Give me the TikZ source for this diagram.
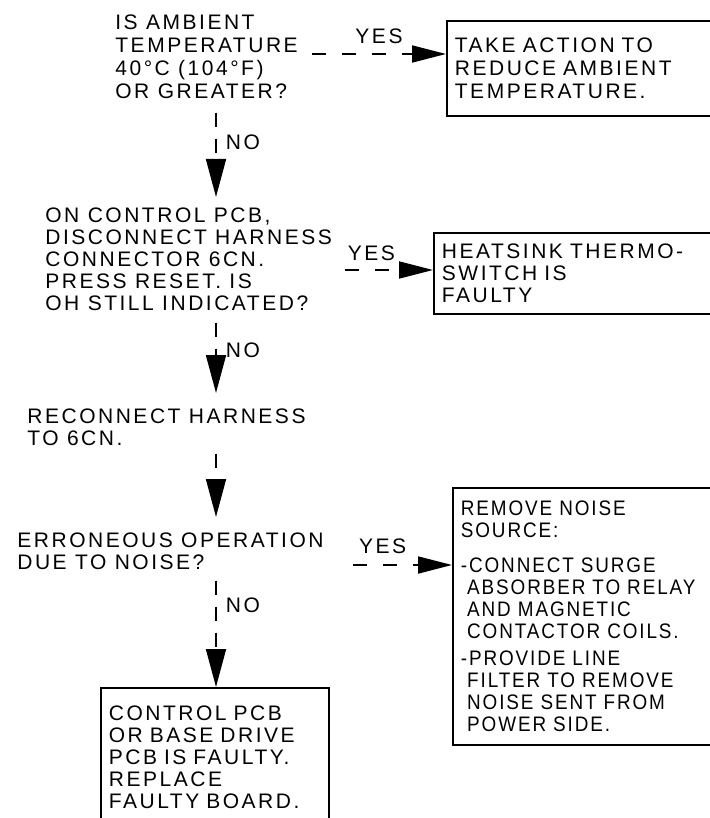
\documentclass[tikz,border=0pt]{standalone}
\usepackage{fontspec}
\setmainfont{Liberation Sans}[LetterSpace=12]
\newfontfamily\narrowfont{Liberation Sans}[LetterSpace=9, FakeStretch=0.9]
\usetikzlibrary{arrows.meta}
\tikzset{
  ques/.style={
    anchor=north west, inner sep=0pt, align=left,
    font=\fontsize{10.5pt}{11pt}\selectfont
  },
  actbox/.style={
    draw, line width=0.9pt, anchor=north west,
    inner xsep=4pt, align=left,
    font=\fontsize{10.5pt}{11pt}\selectfont
  },
  lbl/.style={inner sep=0pt, font=\fontsize{10.5pt}{11pt}\selectfont},
  yesarr/.style={-{Triangle[length=17pt, width=8.5pt]}, line width=0.9pt,
    dash pattern=on 7pt off 8pt},
  noarr/.style={-{Triangle[length=19pt, width=10pt]}, line width=0.9pt,
    dash pattern=on 7pt off 6pt},
}
\begin{document}
\begin{tikzpicture}[x=0.5pt, y=-0.5pt]
  \useasboundingbox (0,0) rectangle (710,818);
  \clip (0,0) rectangle (710,818);
  % questions and steps, left column
  \node[ques, font=\fontsize{10.5pt}{11.5pt}\selectfont] (q1) at (115,14)
    {IS AMBIENT\\TEMPERATURE\\40°C (104°F)\\OR GREATER?};
  \node[ques] (q2) at (45,207)
    {ON CONTROL PCB,\\DISCONNECT HARNESS\\CONNECTOR 6CN.\\PRESS RESET. IS\\OH STILL INDICATED?};
  \node[ques] (rc) at (27,408) {RECONNECT HARNESS\\TO 6CN.};
  \node[ques] (q3) at (17,532) {ERRONEOUS OPERATION\\DUE TO NOISE?};
  % result boxes, open to the right edge
  \node[actbox, text width=260pt, inner ysep=8.5pt, font=\fontsize{10.5pt}{11.5pt}\selectfont] (box1) at (446,20)
    {TAKE ACTION TO\\REDUCE AMBIENT\\TEMPERATURE.};
  \node[actbox, text width=260pt, inner ysep=5.5pt] (box2) at (433,232)
    {HEATSINK THERMO-\\SWITCH IS\\FAULTY};
  \node[actbox, text width=260pt, inner ysep=6.5pt, font=\fontsize{10.5pt}{11pt}\narrowfont] (box3) at (452,487)
    {REMOVE NOISE\\SOURCE:\\[6.5pt]
     -CONNECT SURGE\\\hphantom{-}ABSORBER TO RELAY\\\hphantom{-}AND MAGNETIC\\\hphantom{-}CONTACTOR COILS.\\[2.5pt]
     -PROVIDE LINE\\\hphantom{-}FILTER TO REMOVE\\\hphantom{-}NOISE SENT FROM\\\hphantom{-}POWER SIDE.};
  \node[actbox, text width=106pt, inner ysep=9pt] (fin) at (100,687)
    {CONTROL PCB\\OR BASE DRIVE\\PCB IS FAULTY.\\REPLACE\\FAULTY BOARD.};
  % connectors
  \coordinate (ax) at (216,0);
  \coordinate (y1) at (312,54);
  \coordinate (y2) at (345,270);
  \coordinate (y3) at (353,565);
  \draw[yesarr] (y1) -- (y1 -| box1.west) node[lbl, midway, above=4.5pt] {YES};
  \draw[yesarr] (y2) -- (y2 -| box2.west) node[lbl, pos=0.3, above=4pt] {YES};
  \draw[yesarr] (y3) -- (y3 -| box3.west) node[lbl, pos=0.3, above=5pt] {YES};
  \draw[noarr, shorten <=7pt, shorten >=5pt] (q1.south -| ax) -- (q2.north -| ax)
    node[lbl, pos=0.4, right=4.5pt] {NO};
  \draw[noarr, shorten <=6pt, shorten >=7.5pt] (q2.south -| ax) -- (rc.north -| ax)
    node[lbl, pos=0.41, right=4.5pt] {NO};
  \draw[noarr, shorten <=4pt, shorten >=7.5pt] (rc.south -| ax) -- (q3.north -| ax);
  \draw[noarr, shorten <=5.5pt] (q3.south -| ax) -- (fin.north -| ax)
    node[lbl, pos=0.3, right=4.5pt] {NO};
\end{tikzpicture}
\end{document}
